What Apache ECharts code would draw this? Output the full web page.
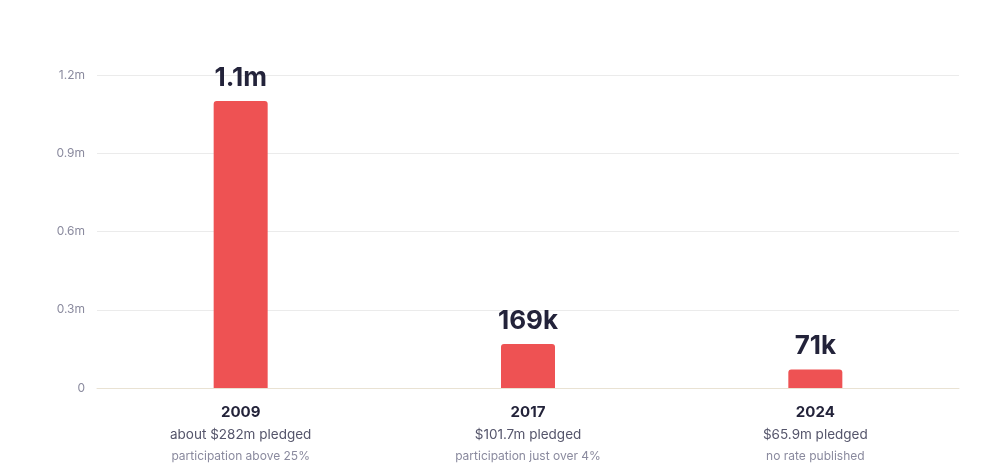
<!DOCTYPE html>
<html>
<head>
    <meta charset="utf-8">
    <title>Pledges</title>
    <script src="https://cdn.jsdelivr.net/npm/echarts@6/dist/echarts.min.js"></script>
    <style>
        html, body { margin: 0; padding: 0; background: #fff; }
        #chart { width: 1000px; height: 476px; }
    </style>
</head>
<body>
<div id="chart"></div>
<script>
    var years = ['2009', '2017', '2024'];
    var pledged = ['about $282m pledged', '$101.7m pledged', '$65.9m pledged'];
    var notes = ['participation above 25%', 'participation just over 4%', 'no rate published'];
    var donors = [1100000, 169000, 71000];
    var valueLabels = ['1.1m', '169k', '71k'];
    var yTicks = ['0', '0.3m', '0.6m', '0.9m', '1.2m'];

    var chart = echarts.init(document.getElementById('chart'));

    chart.setOption({
        animation: false,
        grid: { left: 97, right: 41, top: 75, bottom: 88 },
        xAxis: {
            type: 'category',
            data: years,
            axisLine: { lineStyle: { color: '#e9e2d3', width: 1 } },
            axisTick: { show: false },
            axisLabel: {
                margin: 12,
                formatter: function (v, i) {
                    return '{y|' + v + '}\n{p|' + pledged[i] + '}\n{n|' + notes[i] + '}';
                },
                rich: {
                    y: { fontFamily: 'Inter', fontWeight: 'bold', fontSize: 15, color: '#23233a', lineHeight: 24 },
                    p: { fontFamily: 'Inter', fontSize: 13.5, color: '#55556b', lineHeight: 22 },
                    n: { fontFamily: 'Inter', fontSize: 12, color: '#8a8a9e', lineHeight: 21 }
                }
            }
        },
        yAxis: {
            type: 'value',
            min: 0,
            max: 1200000,
            interval: 300000,
            axisLine: { show: false },
            axisTick: { show: false },
            splitLine: { lineStyle: { color: '#ebebeb' } },
            axisLabel: {
                margin: 12,
                fontFamily: 'Inter',
                fontSize: 12,
                color: '#8a8a9e',
                formatter: function (v) {
                    return yTicks[Math.round(v / 300000)];
                }
            }
        },
        series: [{
            type: 'bar',
            data: donors,
            barWidth: 54,
            itemStyle: { color: '#ee5253', borderRadius: [3, 3, 0, 0] },
            label: {
                show: true,
                position: 'top',
                distance: 10,
                fontFamily: 'Inter',
                fontWeight: 'bold',
                fontSize: 26,
                color: '#23233a',
                formatter: function (p) {
                    return valueLabels[p.dataIndex];
                }
            }
        }]
    });
</script>
</body>
</html>
